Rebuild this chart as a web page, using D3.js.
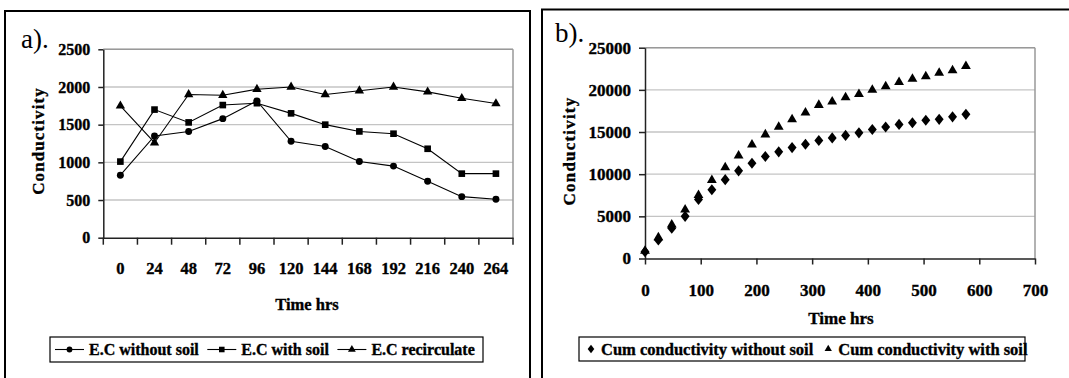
<!DOCTYPE html>
<html>
<head>
<meta charset="utf-8">
<script src="https://cdn.jsdelivr.net/npm/d3@7"></script>
<style>
  body { margin: 0; background: #fff; }
  svg text { font-family: "Liberation Serif", "Times New Roman", serif; font-weight: bold; fill: #000; stroke: #000; stroke-width: 0.35px; }
  svg text.panel { stroke: none; font-weight: normal; }
</style>
</head>
<body>
<svg id="chart" width="1069" height="378"></svg>
<script>
// ---- data, panel a) ----
var timeA = ["0", "24", "48", "72", "96", "120", "144", "168", "192", "216", "240", "264"];
var ecWithoutSoil = [830, 1350, 1410, 1580, 1815, 1280, 1210, 1010, 950, 750, 545, 510];
var ecWithSoil = [1010, 1700, 1530, 1760, 1785, 1650, 1500, 1410, 1380, 1180, 850, 850];
var ecRecirculate = [1750, 1260, 1900, 1890, 1970, 2000, 1900, 1950, 2000, 1935, 1850, 1780];
var yTicksA = [0, 500, 1000, 1500, 2000, 2500];

// ---- data, panel b) ----
var timeB = [0, 24, 48, 72, 96, 120, 144, 168, 192, 216, 240, 264, 288, 312, 336, 360, 384, 408, 432, 456, 480, 504, 528, 552, 576];
var cumWithoutSoil = [800, 2200, 3600, 5000, 7000, 8150, 9350, 10400, 11300, 12100, 12650, 13150, 13550, 14000, 14300, 14600, 14900, 15300, 15600, 15900, 16100, 16400, 16500, 16800, 17100];
var cumWithSoil = [900, 2500, 4000, 5800, 7500, 9300, 10800, 12200, 13500, 14700, 15600, 16500, 17300, 18200, 18600, 19100, 19500, 20000, 20400, 20900, 21300, 21600, 22000, 22300, 22800];
var xTicksB = [0, 100, 200, 300, 400, 500, 600, 700];
var yTicksB = [0, 5000, 10000, 15000, 20000, 25000];

var svg = d3.select("#chart");

// diamond a bit wider than d3's own
var diamondWide = {
  draw: function(ctx, size) {
    var h = Math.sqrt(size) * 0.72, w = h * 0.8;
    ctx.moveTo(0, -h); ctx.lineTo(w, 0); ctx.lineTo(0, h); ctx.lineTo(-w, 0); ctx.closePath();
  }
};

// panel frames
svg.append("rect").attr("x", 5).attr("y", 11).attr("width", 525).attr("height", 400)
  .attr("fill", "none").attr("stroke", "#000").attr("stroke-width", 2);
svg.append("rect").attr("x", 542).attr("y", 9.5).attr("width", 560).attr("height", 400)
  .attr("fill", "none").attr("stroke", "#000").attr("stroke-width", 2);

function styleAxis(g) {
  g.select(".domain").attr("stroke", "#222").attr("stroke-width", 1.5);
  g.selectAll(".tick line").attr("stroke", "#222").attr("stroke-width", 1.5);
  g.selectAll("text").attr("font-family", null).attr("font-size", null);
}

// ================= panel a) =================
var a = {left: 103.3, right: 513, top: 49.3, bottom: 237.7};

var xA = d3.scaleBand().domain(timeA).range([a.left, a.right]);
var yA = d3.scaleLinear().domain([0, 2500]).range([a.bottom, a.top]);

var gA = svg.append("g");

// gridlines
gA.selectAll("line.grid").data(yTicksA.slice(1)).enter().append("line")
  .attr("x1", a.left).attr("x2", a.right)
  .attr("y1", function(d) { return yA(d); }).attr("y2", function(d) { return yA(d); })
  .attr("stroke", "#c4c4c4").attr("stroke-width", 1.3);
gA.append("line").attr("x1", a.right).attr("x2", a.right).attr("y1", a.top).attr("y2", a.bottom)
  .attr("stroke", "#999").attr("stroke-width", 1.5);
gA.append("line").attr("x1", a.left).attr("x2", a.right).attr("y1", a.top).attr("y2", a.top)
  .attr("stroke", "#999").attr("stroke-width", 1.5);

// y axis
gA.append("g")
  .attr("transform", "translate(" + a.left + ",0)")
  .call(d3.axisLeft(yA).tickValues(yTicksA).tickFormat(d3.format("d")).tickSize(5).tickPadding(8).tickSizeOuter(0))
  .call(styleAxis)
  .selectAll("text").style("font-size", "16px");

// x axis: labels in band centers, ticks on band edges
var axA = gA.append("g")
  .attr("transform", "translate(0," + a.bottom + ")")
  .call(d3.axisBottom(xA).tickSize(0).tickSizeOuter(0))
  .call(styleAxis);
axA.selectAll("text").attr("y", 31).attr("dy", "0.35em").style("font-size", "16.5px");
var edges = timeA.map(function(d) { return xA(d); }).concat([xA.range()[1]]);
axA.selectAll("line.edge").data(edges).enter().append("line")
  .attr("x1", function(d) { return d; }).attr("x2", function(d) { return d; })
  .attr("y1", 0).attr("y2", 7).attr("stroke", "#222").attr("stroke-width", 1.5);

var seriesA = [
  {name: "E.C without soil", values: ecWithoutSoil, symbol: d3.symbolCircle, size: 38},
  {name: "E.C with soil", values: ecWithSoil, symbol: d3.symbolSquare, size: 44},
  {name: "E.C recirculate", values: ecRecirculate, symbol: d3.symbolTriangle, size: 38}
];

var lineA = d3.line()
  .x(function(d, i) { return xA(timeA[i]) + xA.bandwidth() / 2; })
  .y(function(d) { return yA(d); });

seriesA.forEach(function(s) {
  gA.append("path").datum(s.values).attr("d", lineA)
    .attr("fill", "none").attr("stroke", "#000").attr("stroke-width", 1.1);
  gA.selectAll(null).data(s.values).enter().append("path")
    .attr("d", d3.symbol().type(s.symbol).size(s.size))
    .attr("transform", function(d, i) {
      return "translate(" + (xA(timeA[i]) + xA.bandwidth() / 2) + "," + yA(d) + ")";
    })
    .attr("fill", "#000");
});

svg.append("text").attr("class", "panel").attr("x", 21).attr("y", 48).style("font-size", "27px").text("a).");
svg.append("text").attr("transform", "translate(44,141) rotate(-90)")
  .attr("text-anchor", "middle").style("font-size", "17px").style("letter-spacing", "1.1px").text("Conductivity");
svg.append("text").attr("x", 307).attr("y", 310).attr("text-anchor", "middle").style("font-size", "16.5px").text("Time hrs");

// legend a)
var legA = svg.append("g");
legA.append("rect").attr("x", 50).attr("y", 337).attr("width", 433).attr("height", 25)
  .attr("fill", "#fff").attr("stroke", "#000").attr("stroke-width", 1.2);
var lx = 55;
seriesA.forEach(function(s) {
  legA.append("line").attr("x1", lx).attr("x2", lx + 29).attr("y1", 349.5).attr("y2", 349.5)
    .attr("stroke", "#000").attr("stroke-width", 1.1);
  legA.append("path").attr("d", d3.symbol().type(s.symbol).size(s.size * 0.7))
    .attr("transform", "translate(" + (lx + 14.5) + ",349.5)").attr("fill", "#000");
  var t = legA.append("text").attr("x", lx + 34).attr("y", 355).style("font-size", "16px").text(s.name);
  lx = lx + 34 + t.node().getComputedTextLength() + 8.5;
});

// ================= panel b) =================
var b = {left: 645, right: 1035, top: 47.7, bottom: 258.5};
var xB = d3.scaleLinear().domain([0, 700]).range([b.left, b.right]);
var yB = d3.scaleLinear().domain([0, 25000]).range([b.bottom, b.top]);

var gB = svg.append("g");
gB.selectAll("line.grid").data(yTicksB.slice(1)).enter().append("line")
  .attr("x1", b.left).attr("x2", b.right)
  .attr("y1", function(d) { return yB(d); }).attr("y2", function(d) { return yB(d); })
  .attr("stroke", "#c4c4c4").attr("stroke-width", 1.3);
gB.append("line").attr("x1", b.right).attr("x2", b.right).attr("y1", b.top).attr("y2", b.bottom)
  .attr("stroke", "#999").attr("stroke-width", 1.5);
gB.append("line").attr("x1", b.left).attr("x2", b.right).attr("y1", b.top).attr("y2", b.top)
  .attr("stroke", "#999").attr("stroke-width", 1.5);

gB.append("g")
  .attr("transform", "translate(" + b.left + ",0)")
  .call(d3.axisLeft(yB).tickValues(yTicksB).tickFormat(d3.format("d")).tickSize(6).tickPadding(8).tickSizeOuter(0))
  .call(styleAxis)
  .selectAll("text").style("font-size", "17px");

var axB = gB.append("g")
  .attr("transform", "translate(0," + b.bottom + ")")
  .call(d3.axisBottom(xB).tickValues(xTicksB).tickSize(6).tickSizeOuter(0))
  .call(styleAxis);
axB.selectAll("text").attr("y", 31.5).attr("dy", "0.35em").style("font-size", "17px");

var seriesB = [
  {name: "Cum conductivity without soil", values: cumWithoutSoil, symbol: diamondWide, size: 60},
  {name: "Cum conductivity with soil", values: cumWithSoil, symbol: d3.symbolTriangle, size: 42}
];

seriesB.forEach(function(s) {
  gB.selectAll(null).data(s.values).enter().append("path")
    .attr("d", d3.symbol().type(s.symbol).size(s.size))
    .attr("transform", function(d, i) { return "translate(" + xB(timeB[i]) + "," + yB(d) + ")"; })
    .attr("fill", "#000");
});

svg.append("text").attr("class", "panel").attr("x", 555).attr("y", 42).style("font-size", "27px").text("b).");
svg.append("text").attr("transform", "translate(575,151) rotate(-90)")
  .attr("text-anchor", "middle").style("font-size", "17px").style("letter-spacing", "1.2px").text("Conductivity");
svg.append("text").attr("x", 841).attr("y", 324).attr("text-anchor", "middle").style("font-size", "17px").text("Time hrs");

// legend b)
var legB = svg.append("g");
legB.append("rect").attr("x", 579).attr("y", 337).attr("width", 446).attr("height", 24)
  .attr("fill", "#fff").attr("stroke", "#000").attr("stroke-width", 1.2);
var bx = 591;
seriesB.forEach(function(s) {
  legB.append("path").attr("d", d3.symbol().type(s.symbol).size(s.size * 0.55))
    .attr("transform", "translate(" + bx + ",349)").attr("fill", "#000");
  var t = legB.append("text").attr("x", bx + 10).attr("y", 355).style("font-size", "16.5px").text(s.name);
  bx = bx + 10 + t.node().getComputedTextLength() + 15;
});
</script>
</body>
</html>
